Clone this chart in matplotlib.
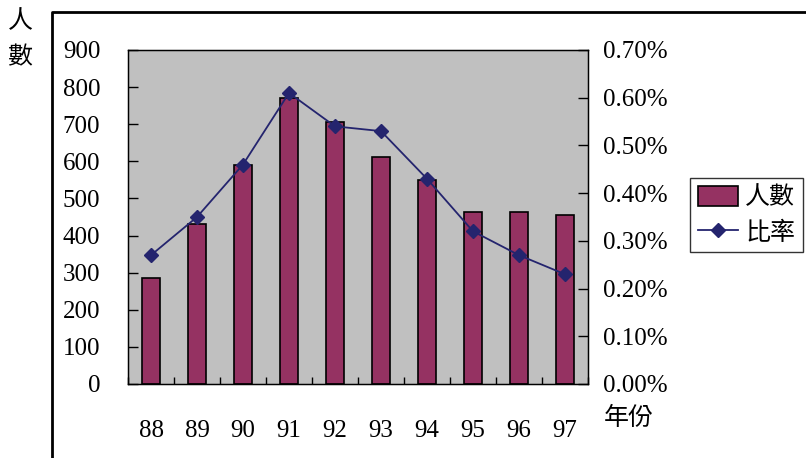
import matplotlib
matplotlib.use("Agg")
import matplotlib.pyplot as plt
from matplotlib.lines import Line2D
from matplotlib.ticker import FuncFormatter, MultipleLocator, FixedLocator
import numpy as np

plt.rcParams['font.family'] = ['Liberation Serif', 'Noto Sans CJK TC', 'DejaVu Sans']

years = ['88', '89', '90', '91', '92', '93', '94', '95', '96', '97']
people = [285, 430, 590, 770, 705, 613, 550, 463, 463, 455]
ratio = [0.27, 0.35, 0.46, 0.61, 0.54, 0.53, 0.43, 0.32, 0.27, 0.23]

bar_color = '#953262'
line_color = '#24246e'
fs = 18

fig = plt.figure(figsize=(8.06, 4.58), dpi=100)
ax = fig.add_axes([128/806, 1 - 384/458, 460/806, 334/458])
ax.set_facecolor('#c0c0c0')

x = np.arange(len(years))
ax.bar(x, people, width=0.4, color=bar_color, edgecolor='black', linewidth=1.2, zorder=2)
ax.set_xlim(-0.5, len(years) - 0.5)
ax.set_ylim(0, 900)
ax.yaxis.set_major_locator(MultipleLocator(100))
ax.xaxis.set_major_locator(FixedLocator(x))
ax.set_xticklabels(years)
ax.xaxis.set_minor_locator(FixedLocator(np.arange(-0.5, len(years), 1.0)))
ax.tick_params(axis='x', which='major', length=0, pad=26, labelsize=fs)
ax.tick_params(axis='x', which='minor', direction='in', length=5, width=1)
ax.tick_params(axis='y', direction='in', length=7, width=1, labelsize=fs, pad=20)
for s in ax.spines.values():
    s.set_linewidth(1)

ax2 = ax.twinx()
ax2.plot(x, ratio, color=line_color, linewidth=1.3, marker='D', markersize=7,
         zorder=3)
ax2.set_ylim(0, 0.7)
ax2.yaxis.set_major_locator(MultipleLocator(0.1))
ax2.yaxis.set_major_formatter(FuncFormatter(lambda v, p: '%.2f%%' % v))
ax2.tick_params(axis='y', direction='in', length=7, width=1, labelsize=fs, pad=11)

# legend
handles = [plt.Rectangle((0, 0), 1, 1, facecolor=bar_color, edgecolor='black', linewidth=1.2),
           Line2D([], [], color=line_color, linewidth=1.3, marker='D', markersize=7)]
leg = fig.legend(handles, ['人數', '比率'], loc='upper left',
                 bbox_to_anchor=(690/806, 1 - 178/458), fontsize=fs,
                 frameon=True, fancybox=False, edgecolor='black',
                 borderpad=0.3, handlelength=1.6, handleheight=0.9,
                 handletextpad=0.3, labelspacing=0.45, borderaxespad=0)
leg.get_frame().set_linewidth(1)

# axis titles
fig.text(20/806, 1 - 22/458, '人', fontsize=fs, ha='center', va='center')
fig.text(20/806, 1 - 58/458, '數', fontsize=fs, ha='center', va='center')
fig.text(604/806, 1 - 418/458, '年份', fontsize=fs, ha='left', va='center')

# outer chart border
fig.add_artist(Line2D([52/806, 52/806, 1.0], [0.0, 1 - 12/458, 1 - 12/458],
                      transform=fig.transFigure, color='black', linewidth=2))

fig.savefig('out.png', dpi=100)
